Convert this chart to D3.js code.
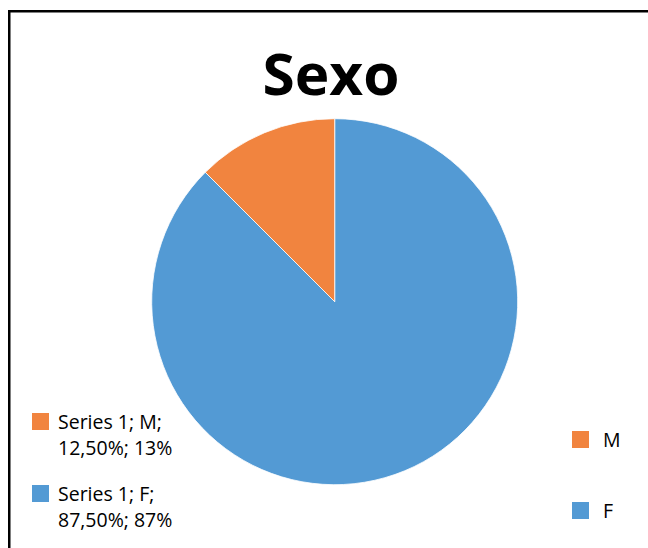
<!DOCTYPE html>
<html><head><meta charset="utf-8">
<script src="https://cdn.jsdelivr.net/npm/d3@7"></script>
<style>html,body{margin:0;padding:0;background:#fff;overflow:hidden}</style>
</head><body>
<script>
const title = "Sexo";
const categories = ["M", "F"];
const values = [12.5, 87.5];
const colors = ["#F1843F", "#539AD4"];
const leftLegendLines = [["Series 1; M;", "12,50%; 13%"], ["Series 1; F;", "87,50%; 87%"]];

const W = 648, H = 548;
const svg = d3.select("body").append("svg").attr("width", W).attr("height", H);
svg.append("rect").attr("width", W).attr("height", H).attr("fill", "#fff");
svg.append("rect").attr("x", 9.25).attr("y", 11.25).attr("width", 700).attr("height", 600)
  .attr("fill", "none").attr("stroke", "#000").attr("stroke-width", 2.5);

svg.append("text").attr("x", 331).attr("y", 95).attr("text-anchor", "middle")
  .attr("font-family", "'Open Sans', sans-serif").attr("font-weight", 700).attr("font-size", 57)
  .attr("textLength", 137).attr("lengthAdjust", "spacingAndGlyphs")
  .attr("fill", "#000").text(title);

const data = categories.map((c, i) => ({cat: c, val: values[i], color: colors[i]}));
// F drawn clockwise from 12 o'clock, M fills the remainder
const pie = d3.pie().value(d => d.val).sort(null);
const arcs = pie([data[1], data[0]]);
const arc = d3.arc().innerRadius(0).outerRadius(183);
svg.append("g").attr("transform", "translate(334.7,301.7)")
  .selectAll("path").data(arcs).join("path")
  .attr("d", arc).attr("fill", d => d.data.color)
  .attr("stroke", "#fff").attr("stroke-width", 0.8);

const font = "'Open Sans', sans-serif";
// left legend
const lg = svg.append("g");
data.forEach((d, i) => {
  const y0 = 413 + i * 72;
  lg.append("rect").attr("x", 32).attr("y", y0).attr("width", 17).attr("height", 17).attr("fill", d.color);
  leftLegendLines[i].forEach((t, j) => {
    lg.append("text").attr("x", 58).attr("y", y0 + 16 + j * 25.5)
      .attr("font-family", font).attr("font-size", 19.5).attr("fill", "#000").text(t);
  });
});
// right legend
const rg = svg.append("g");
data.forEach((d, i) => {
  const y0 = 431 + i * 71;
  rg.append("rect").attr("x", 572).attr("y", y0).attr("width", 17).attr("height", 17).attr("fill", d.color);
  rg.append("text").attr("x", 603).attr("y", y0 + 16)
    .attr("font-family", font).attr("font-size", 19.5).attr("fill", "#000").text(d.cat);
});
</script>
</body></html>
